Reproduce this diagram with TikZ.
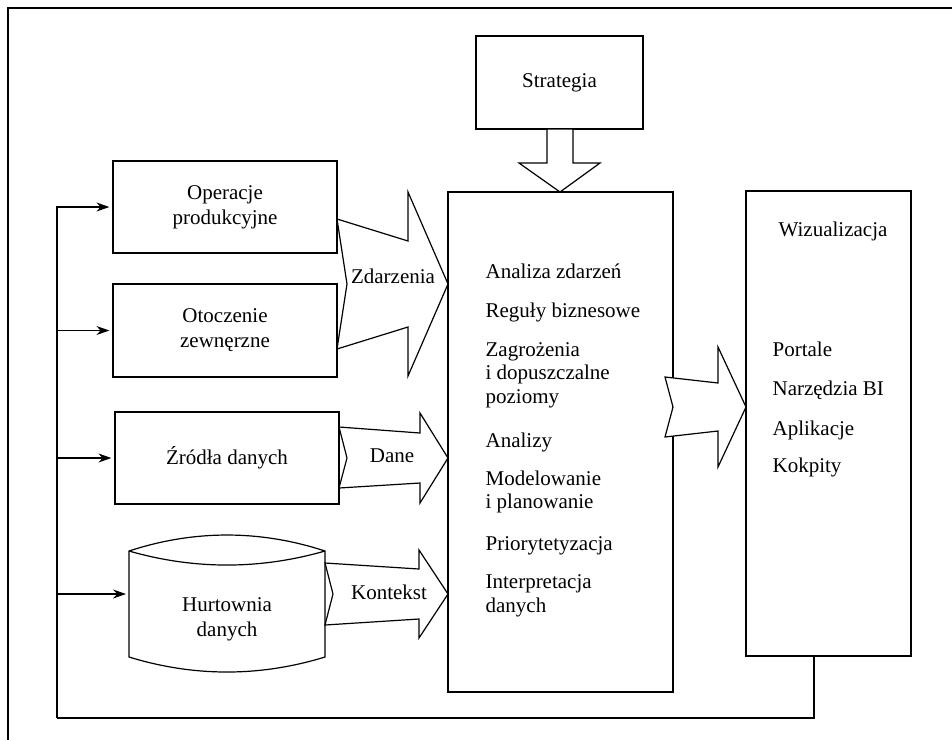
\documentclass[tikz,border=0pt]{standalone}
\usepackage{fontspec}
\setmainfont{Liberation Serif}
\usetikzlibrary{arrows.meta,positioning}

\tikzset{
  box/.style={rectangle,draw=black,fill=white,inner sep=0pt,align=center},
  bigarrow/.style={draw=black,fill=white,line join=miter},
  fbarrow/.style={draw=black,-{Stealth[length=6.5pt,width=4.5pt]},shorten >=1.5pt},
  item/.style={anchor=base west,inner sep=0pt}
}

\begin{document}
\begin{tikzpicture}[x=0.5pt,y=-0.5pt,line width=0.6pt,font=\fontsize{10.5}{12.5}\selectfont]
\useasboundingbox (0,0) rectangle (952,740);
\draw (952,8) -- (8,8) -- (8,740);

\node at (559.5,82.5)[box,minimum width=83.5pt,minimum height=46.5pt](strat){Strategia};
\node at (225,207)[box,minimum width=112pt,minimum height=46pt](oper){Operacje\\produkcyjne};
\node at (225,330.5)[box,minimum width=112pt,minimum height=46.5pt](otocz){Otoczenie\\zewnęrzne};
\node at (227,458)[box,minimum width=112pt,minimum height=46pt](zrodla){Źródła danych};
\node at (560.5,442)[box,minimum width=112.5pt,minimum height=250pt](centr){};
\node at (828.5,423.5)[box,minimum width=82.5pt,minimum height=232.5pt](wiz){};

% hurtownia
\draw[fill=white] (129,551) .. controls (194,529.7) and (260,529.7) .. (325,551) -- (325,657)
  .. controls (260,677) and (194,677) .. (129,657) -- cycle;
\draw (129,551) .. controls (194,569.7) and (260,569.7) .. (325,551);
\node at (227,619)[align=center,inner sep=0pt](hurt){Hurtownia\\danych};
\coordinate (hurtW) at (129,594);

% strzalki
\draw[bigarrow] (547,129) -- (547,163) -- (519,163) -- (560,192) -- (600,163) -- (573,163) -- (573,129) -- cycle;
\draw[bigarrow] (337,219) -- (408,241) -- (408,192) -- (448,284) -- (408,376) -- (408,327) -- (337,349) -- (347,284) -- cycle;
\draw[bigarrow] (339,427) -- (420,433) -- (420,413) -- (448,458) -- (420,503) -- (420,483) -- (339,488) -- (347,458) -- cycle;
\draw[bigarrow] (325,563) -- (419,569) -- (419,550) -- (448,594) -- (419,638) -- (419,619) -- (325,625) -- (333,594) -- cycle;
\draw[bigarrow] (665,377) -- (718,383) -- (718,347) -- (746,407) -- (718,467) -- (718,431) -- (665,437) -- (673,407) -- cycle;
\node at (393,276)(zdarz){Zdarzenia};
\node at (392,456)(dane){Dane};
\node at (389,592)(kont){Kontekst};

% tekst w srodku
\node at (485,278)[item](a1){Analiza zdarzeń};
\node at (485,317)[item](a2){Reguły biznesowe};
\node at (485,356)[item](a3){Zagrożenia};
\node at (485,379.5)[item](a3b){i dopuszczalne};
\node at (485,403)[item](a3c){poziomy};
\node at (485,447)[item](a4){Analizy};
\node at (485,485)[item](a5){Modelowanie};
\node at (485,508.5)[item](a5b){i planowanie};
\node at (485,550)[item](a6){Priorytetyzacja};
\node at (485,588)[item](a7){Interpretacja};
\node at (485,612)[item](a7b){danych};

\node at (833,231)(wizt){Wizualizacja};
\node at (772,356.5)[item](w1){Portale};
\node at (772,395)[item](w2){Narzędzia BI};
\node at (772,435)[item](w3){Aplikacje};
\node at (772,472)[item](w4){Kokpity};

% sprzezenie
\coordinate (fbR) at (814,718);
\coordinate (fbL) at (57,718);
\draw ([xshift=-7.25pt]wiz.south) -- (fbR) -- (fbL);
\draw[fbarrow] (fbL) |- (oper.west);
\draw[fbarrow] (fbL) |- (otocz.west);
\draw[fbarrow] (fbL) |- (zrodla.west);
\draw[fbarrow] (fbL) |- (hurtW);
\end{tikzpicture}
\end{document}
